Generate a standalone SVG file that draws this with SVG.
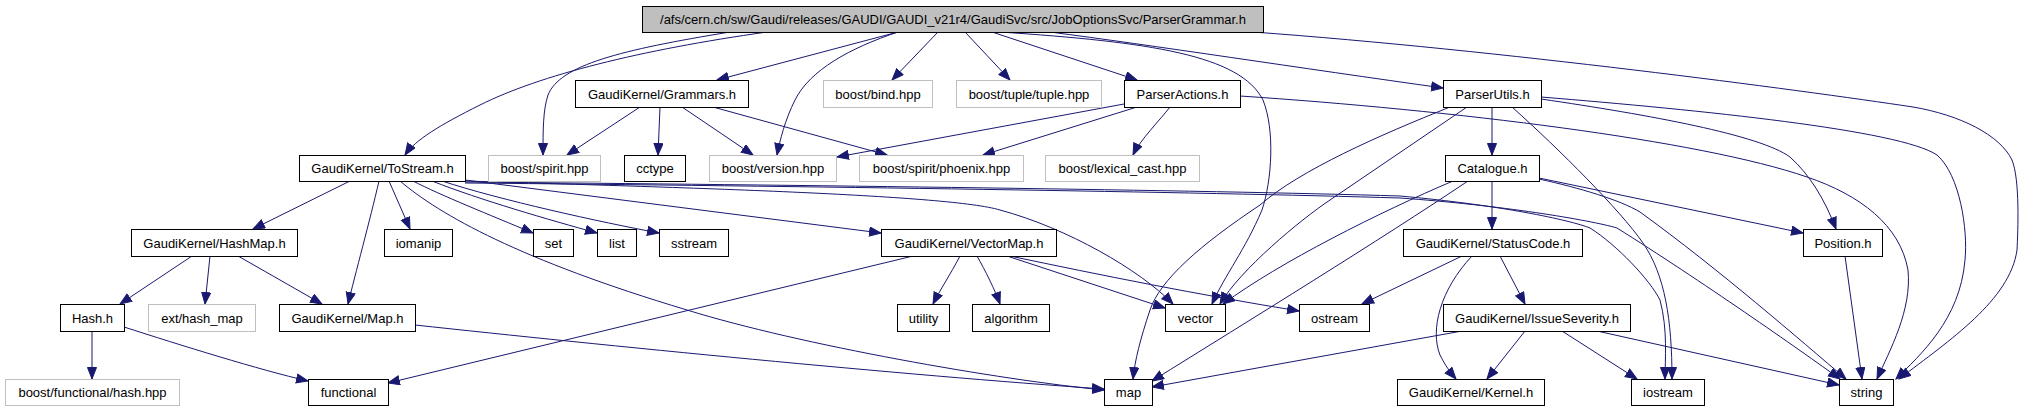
<svg xmlns="http://www.w3.org/2000/svg" width="2032" height="410" viewBox="0 0 2032 410">
<style>
.e{fill:none;stroke:#191970;stroke-width:1;marker-end:url(#a)}
.n rect{fill:#fff;stroke:#000;stroke-width:1}
.n.x rect{stroke:#bfbfbf}
.n.r rect{fill:#bfbfbf}
.n text{font-family:"Liberation Sans",Arial,sans-serif;font-size:13px;fill:#000;text-anchor:middle}
</style>
<defs>
<marker id="a" markerWidth="13" markerHeight="11" refX="12" refY="5" orient="auto" markerUnits="userSpaceOnUse"><path d="M0.5,0.5 L12,5 L0.5,9.5 z" fill="#191970" stroke="#191970" stroke-width="1"/></marker>
</defs>
<rect width="2032" height="410" fill="#fff"/>
<g id="edges">
<path class="e" d="M767,32 C640,50 540,75 480,105 C440,125 415,140 405,155"/>
<path class="e" d="M730,32 C620,50 560,65 548,95 C543,110 543,130 543,155"/>
<path class="e" d="M898,32 L717,80"/>
<path class="e" d="M898,32 C850,48 810,70 795,100 C785,120 780,140 777,155"/>
<path class="e" d="M938,32 L892,80"/>
<path class="e" d="M965,32 L1010,80"/>
<path class="e" d="M992,32 L1137,80"/>
<path class="e" d="M1050,32 C1150,45 1300,68 1443,88"/>
<path class="e" d="M1000,32 C1150,42 1240,55 1263,100 C1275,130 1272,180 1262,210 C1245,250 1225,275 1212,304"/>
<path class="e" d="M1253,32 C1500,50 1800,90 1913,107 C1960,115 2000,135 2012,160 C2020,180 2018,230 2017,250 C2010,300 1950,340 1899,379"/>
<path class="e" d="M640,107 L567,155"/>
<path class="e" d="M660,107 L658,155"/>
<path class="e" d="M682,107 L753,155"/>
<path class="e" d="M713,107 L887,155"/>
<path class="e" d="M1124,104 L837,157"/>
<path class="e" d="M1137,107 L983,155"/>
<path class="e" d="M1170,107 C1160,120 1140,140 1133,155"/>
<path class="e" d="M1240,96 C1450,110 1700,140 1807,177 C1860,195 1900,225 1908,270 C1912,310 1890,350 1877,379"/>
<path class="e" d="M1492,107 L1492,155"/>
<path class="e" d="M1450,107 C1380,135 1300,170 1260,205 C1200,245 1160,280 1150,310 C1140,340 1135,360 1133,379"/>
<path class="e" d="M1467,107 L1330,200 C1300,220 1240,270 1220,304"/>
<path class="e" d="M1512,107 C1560,150 1620,210 1643,243 C1665,275 1672,320 1672,379"/>
<path class="e" d="M1541,99 C1650,115 1760,135 1790,157 C1810,175 1825,200 1836,229"/>
<path class="e" d="M1541,97 C1700,110 1900,130 1937,155 C1960,175 1968,230 1965,260 C1960,320 1920,355 1896,379"/>
<path class="e" d="M350,181 L253,229"/>
<path class="e" d="M379,181 C370,220 355,275 348,304"/>
<path class="e" d="M389,181 L410,229"/>
<path class="e" d="M413,181 C440,195 490,215 533,233"/>
<path class="e" d="M432,181 C480,200 550,220 597,233"/>
<path class="e" d="M442,181 C500,200 600,222 659,233"/>
<path class="e" d="M465,180 L881,233"/>
<path class="e" d="M400,181 C440,215 520,260 687,310 C800,345 1000,380 1104,390"/>
<path class="e" d="M465,181 C700,188 950,195 1000,210 C1067,228 1140,270 1173,304"/>
<path class="e" d="M465,182 C800,185 1200,190 1400,196 C1500,205 1570,220 1590,228 C1617,245 1650,280 1660,300 C1668,330 1665,360 1665,379"/>
<path class="e" d="M465,183 C800,186 1200,192 1400,198 C1500,205 1590,220 1617,228 C1700,280 1800,350 1840,379"/>
<path class="e" d="M192,256 L120,304"/>
<path class="e" d="M210,256 L205,304"/>
<path class="e" d="M238,256 L322,304"/>
<path class="e" d="M92,331 L92,379"/>
<path class="e" d="M124,327 C180,345 260,370 308,381"/>
<path class="e" d="M415,325 C600,345 900,375 1104,389"/>
<path class="e" d="M913,256 L388,383"/>
<path class="e" d="M960,256 C950,275 940,290 933,304"/>
<path class="e" d="M977,256 C985,270 995,290 1000,304"/>
<path class="e" d="M1007,256 L1165,308"/>
<path class="e" d="M1010,256 C1100,275 1200,295 1299,311"/>
<path class="e" d="M1462,256 L1362,304"/>
<path class="e" d="M1472,256 C1440,290 1430,330 1440,355 C1445,365 1450,372 1456,379"/>
<path class="e" d="M1500,256 L1525,304"/>
<path class="e" d="M1525,331 L1487,379"/>
<path class="e" d="M1462,331 L1152,387"/>
<path class="e" d="M1562,331 L1637,379"/>
<path class="e" d="M1597,331 L1839,385"/>
<path class="e" d="M1845,256 L1862,379"/>
<path class="e" d="M1492,181 L1492,229"/>
<path class="e" d="M1453,181 C1380,212 1280,262 1223,304"/>
<path class="e" d="M1468,181 C1380,240 1250,320 1152,381"/>
<path class="e" d="M1539,178 L1803,233"/>
<path class="e" d="M1539,179 C1580,188 1620,200 1640,212 C1720,270 1800,340 1846,379"/>
</g>
<g id="n_root" class="n r"><rect x="642.5" y="6.5" width="621" height="26"/><text x="953" y="24">/afs/cern.ch/sw/Gaudi/releases/GAUDI/GAUDI_v21r4/GaudiSvc/src/JobOptionsSvc/ParserGrammar.h</text></g>
<g id="n_grammars" class="n"><rect x="575.5" y="80.5" width="173" height="27"/><text x="662" y="98.5">GaudiKernel/Grammars.h</text></g>
<g id="n_bind" class="n x"><rect x="823.5" y="80.5" width="109" height="27"/><text x="878" y="98.5">boost/bind.hpp</text></g>
<g id="n_tuple" class="n x"><rect x="956.5" y="80.5" width="145" height="27"/><text x="1029" y="98.5">boost/tuple/tuple.hpp</text></g>
<g id="n_actions" class="n"><rect x="1124.5" y="80.5" width="116" height="27"/><text x="1182.5" y="98.5">ParserActions.h</text></g>
<g id="n_utils" class="n"><rect x="1443.5" y="80.5" width="98" height="27"/><text x="1492.5" y="98.5">ParserUtils.h</text></g>
<g id="n_tostream" class="n"><rect x="299.5" y="155.5" width="166" height="26"/><text x="382.5" y="173">GaudiKernel/ToStream.h</text></g>
<g id="n_spirit" class="n x"><rect x="488.5" y="155.5" width="112" height="26"/><text x="544.5" y="173">boost/spirit.hpp</text></g>
<g id="n_cctype" class="n"><rect x="624.5" y="155.5" width="61" height="26"/><text x="655" y="173">cctype</text></g>
<g id="n_version" class="n x"><rect x="709.5" y="155.5" width="127" height="26"/><text x="773" y="173">boost/version.hpp</text></g>
<g id="n_phoenix" class="n x"><rect x="859.5" y="155.5" width="164" height="26"/><text x="941.5" y="173">boost/spirit/phoenix.hpp</text></g>
<g id="n_lexical" class="n x"><rect x="1045.5" y="155.5" width="154" height="26"/><text x="1122.5" y="173">boost/lexical_cast.hpp</text></g>
<g id="n_catalogue" class="n"><rect x="1445.5" y="155.5" width="94" height="26"/><text x="1492.5" y="173">Catalogue.h</text></g>
<g id="n_hashmap" class="n"><rect x="131.5" y="229.5" width="166" height="27"/><text x="214.5" y="247.5">GaudiKernel/HashMap.h</text></g>
<g id="n_iomanip" class="n"><rect x="384.5" y="229.5" width="68" height="27"/><text x="418.5" y="247.5">iomanip</text></g>
<g id="n_set" class="n"><rect x="533.5" y="229.5" width="40" height="27"/><text x="553.5" y="247.5">set</text></g>
<g id="n_list" class="n"><rect x="597.5" y="229.5" width="39" height="27"/><text x="617" y="247.5">list</text></g>
<g id="n_sstream" class="n"><rect x="659.5" y="229.5" width="69" height="27"/><text x="694" y="247.5">sstream</text></g>
<g id="n_vectormap" class="n"><rect x="881.5" y="229.5" width="175" height="27"/><text x="969" y="247.5">GaudiKernel/VectorMap.h</text></g>
<g id="n_statuscode" class="n"><rect x="1403.5" y="229.5" width="179" height="27"/><text x="1493" y="247.5">GaudiKernel/StatusCode.h</text></g>
<g id="n_position" class="n"><rect x="1803.5" y="229.5" width="79" height="27"/><text x="1843" y="247.5">Position.h</text></g>
<g id="n_hash" class="n"><rect x="60.5" y="304.5" width="64" height="27"/><text x="92.5" y="322.5">Hash.h</text></g>
<g id="n_exthashmap" class="n x"><rect x="148.5" y="304.5" width="107" height="27"/><text x="202" y="322.5">ext/hash_map</text></g>
<g id="n_map_h" class="n"><rect x="279.5" y="304.5" width="136" height="27"/><text x="347.5" y="322.5">GaudiKernel/Map.h</text></g>
<g id="n_utility" class="n"><rect x="897.5" y="304.5" width="52" height="27"/><text x="923.5" y="322.5">utility</text></g>
<g id="n_algorithm" class="n"><rect x="972.5" y="304.5" width="77" height="27"/><text x="1011" y="322.5">algorithm</text></g>
<g id="n_vector" class="n"><rect x="1165.5" y="304.5" width="60" height="27"/><text x="1195.5" y="322.5">vector</text></g>
<g id="n_ostream" class="n"><rect x="1299.5" y="304.5" width="70" height="27"/><text x="1334.5" y="322.5">ostream</text></g>
<g id="n_issue" class="n"><rect x="1443.5" y="304.5" width="187" height="27"/><text x="1537" y="322.5">GaudiKernel/IssueSeverity.h</text></g>
<g id="n_boosthash" class="n x"><rect x="5.5" y="379.5" width="174" height="26"/><text x="92.5" y="397">boost/functional/hash.hpp</text></g>
<g id="n_functional" class="n"><rect x="308.5" y="379.5" width="80" height="26"/><text x="348.5" y="397">functional</text></g>
<g id="n_map" class="n"><rect x="1104.5" y="379.5" width="48" height="26"/><text x="1128.5" y="397">map</text></g>
<g id="n_kernel" class="n"><rect x="1397.5" y="379.5" width="147" height="26"/><text x="1471" y="397">GaudiKernel/Kernel.h</text></g>
<g id="n_iostream" class="n"><rect x="1631.5" y="379.5" width="73" height="26"/><text x="1668" y="397">iostream</text></g>
<g id="n_string" class="n"><rect x="1839.5" y="379.5" width="54" height="26"/><text x="1866.5" y="397">string</text></g>
</svg>
